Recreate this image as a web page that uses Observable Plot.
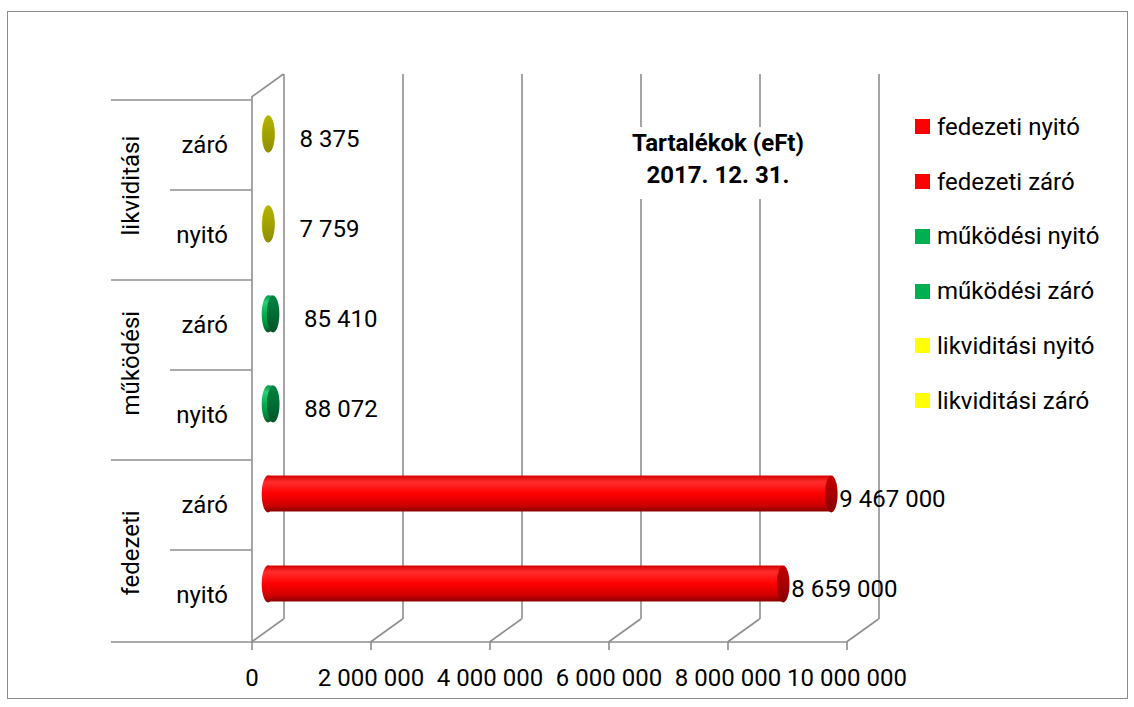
<!DOCTYPE html>
<html>
<head>
<meta charset="utf-8">
<script src="https://cdn.jsdelivr.net/npm/d3@7"></script>
<script src="https://cdn.jsdelivr.net/npm/@observablehq/plot@0.6"></script>
<style>
  body { margin: 0; background: #fff; }
  #wrap { position: relative; width: 1134px; height: 707px; font-family: Roboto, sans-serif; color: #000; overflow: hidden; }
  #chart { position: absolute; left: 0; top: 0; }
  #chart svg { display: block; }
  #border { position: absolute; left: 7px; top: 11px; width: 1119px; height: 686px; border: 1px solid #8a8a8a; pointer-events: none; }
  #title { position: absolute; left: 626px; top: 127px; width: 184px; padding-bottom: 8px; background: #fff;
           text-align: center; font-weight: bold; font-size: 24px; line-height: 32px; }
  .li { position: absolute; left: 915px; height: 30px; display: flex; align-items: center; font-size: 24px; white-space: nowrap; }
  .sw { width: 15px; height: 15px; margin-right: 7px; flex: none; }
</style>
</head>
<body>
<div id="wrap">
  <div id="chart"></div>
  <div id="border"></div>
  <div id="title">Tartalékok (eFt)<br>2017. 12. 31.</div>
  <div id="legend"></div>
</div>
<script>
// ---- data ----
const groups = ["fedezeti", "fedezeti", "működési", "működési", "likviditási", "likviditási"];
const subs   = ["nyitó", "záró", "nyitó", "záró", "nyitó", "záró"];
const values = [8659000, 9467000, 88072, 85410, 7759, 8375];
const groupNames = ["fedezeti", "működési", "likviditási"];
const groupColors = ["#ff0000", "#00b050", "#ffff00"];
const xTicks = [0, 2000000, 4000000, 6000000, 8000000, 10000000];
const legendLabels = ["fedezeti nyitó", "fedezeti záró", "működési nyitó", "működési záró", "likviditási nyitó", "likviditási záró"];

// cylinder shading (body: vertical gradient, cap: end face)
const bodyStops = [
  [[0, "#d40000"], [0.18, "#ff2d2d"], [0.5, "#ff0000"], [0.82, "#d00000"], [1, "#8a0000"]],
  [[0, "#00964a"], [0.18, "#2ccf78"], [0.5, "#00b050"], [0.82, "#008a3e"], [1, "#005a28"]],
  [[0, "#c8c800"], [0.18, "#ffff45"], [0.5, "#eeee00"], [0.82, "#bcbc00"], [1, "#7e7e00"]]
];
const capStops = [
  [[0, "#c40000"], [1, "#880000"]],
  [[0, "#008442"], [1, "#005427"]],
  [[0, "#b4b400"], [1, "#8e8e00"]]
];

const data = groups.map((g, i) => ({key: g + " " + subs[i], group: g, sub: subs[i], value: values[i]}));
const yDomain = data.map(d => d.key).reverse();

// ---- layout / style constants ----
const W = 1134, H = 707, ML = 251.5, MR = 287.5, MT = 97, MB = 65;
const DX = 32, DY = -23;            // depth of the 3-D box
const GRID = "#8e8e8e", GW = 1.6;
const bw = (H - MT - MB) / yDomain.length;
const barH = 36.8, inset = (bw - barH) / 2;
const RX = 6.3, RY = barH / 2;
const LONG = 140.5, SHORT = 81.5;

const fmt = d3.formatLocale({decimal: ",", thousands: " ", grouping: [3], currency: ["", ""]}).format(",d");

// gradients
const defs = d3.select("body").append("svg").attr("width", 0).attr("height", 0)
  .style("position", "absolute").append("defs");
function addGrad(id, stops) {
  const g = defs.append("linearGradient").attr("id", id).attr("x1", 0).attr("y1", 0).attr("x2", 0).attr("y2", 1);
  for (const [o, c] of stops) g.append("stop").attr("offset", o).attr("stop-color", c);
}
groupNames.forEach((g, i) => { addGrad("body-" + i, bodyStops[i]); addGrad("cap-" + i, capStops[i]); });

// ellipse symbol for cylinder ends
const ellipse = {
  draw(ctx) {
    const k = 0.5523;
    ctx.moveTo(RX, 0);
    ctx.bezierCurveTo(RX, RY * k, RX * k, RY, 0, RY);
    ctx.bezierCurveTo(-RX * k, RY, -RX, RY * k, -RX, 0);
    ctx.bezierCurveTo(-RX, -RY * k, -RX * k, -RY, 0, -RY);
    ctx.bezierCurveTo(RX * k, -RY, RX, -RY * k, RX, 0);
    ctx.closePath();
  }
};

// floor diagonals and top edge of the side wall
function depthEdges(index, scales, values, dims) {
  const x = scales.x;
  const g = d3.create("svg:g").attr("stroke", GRID).attr("stroke-width", GW).attr("fill", "none");
  const yb = dims.height - dims.marginBottom;
  for (const t of xTicks) {
    g.append("line").attr("x1", x(t)).attr("y1", yb).attr("x2", x(t) + DX).attr("y2", yb + DY);
  }
  g.append("line").attr("x1", x(0)).attr("y1", dims.marginTop).attr("x2", x(0) + DX).attr("y2", dims.marginTop + DY);
  return g.node();
}

// category separators of the two-level axis
function categoryLines(index, scales, values, dims) {
  const {x, y} = scales;
  const g = d3.create("svg:g").attr("stroke", GRID).attr("stroke-width", GW).attr("fill", "none");
  const x0 = x(0);
  for (const d of data) {
    const yt = y(d.key);
    const left = d.sub === "záró" ? x0 - LONG : x0 - SHORT;
    g.append("line").attr("x1", left).attr("x2", x0).attr("y1", yt).attr("y2", yt);
  }
  const yb = dims.height - dims.marginBottom;
  g.append("line").attr("x1", x0 - LONG).attr("x2", x(xTicks[xTicks.length - 1])).attr("y1", yb).attr("y2", yb);
  return g.node();
}

const cylinderMarks = groupNames.flatMap((g, i) => {
  const rows = data.filter(d => d.group === g);
  return [
    Plot.dot(rows, {x: () => 0, y: "key", symbol: ellipse, fill: `url(#body-${i})`, dx: DX / 2, dy: DY / 2}),
    Plot.barX(rows, {x: "value", y: "key", insetTop: inset, insetBottom: inset, fill: `url(#body-${i})`, dx: DX / 2, dy: DY / 2}),
    Plot.dot(rows, {x: "value", y: "key", symbol: ellipse, fill: `url(#cap-${i})`, dx: DX / 2, dy: DY / 2})
  ];
});

const chart = Plot.plot({
  width: W, height: H,
  marginLeft: ML, marginRight: MR, marginTop: MT, marginBottom: MB,
  style: {fontFamily: "Roboto, sans-serif", fontSize: "24px", color: "#000", background: "transparent", overflow: "visible"},
  x: {domain: [0, 10000000]},
  y: {domain: yDomain, padding: 0},
  marks: [
    Plot.ruleX(xTicks, {dx: DX, dy: DY, stroke: GRID, strokeWidth: GW}),
    Plot.ruleX([0], {stroke: GRID, strokeWidth: GW}),
    depthEdges,
    categoryLines,
    Plot.axisX({ticks: xTicks, tickSize: 8, tickPadding: 18, tickFormat: fmt, stroke: GRID, strokeWidth: GW, fontSize: 24, label: null}),
    Plot.axisY({tickSize: 0, tickPadding: 24, tickFormat: k => k.split(" ")[1], fontSize: 24, label: null}),
    // group label sits on the boundary between its two bands (top edge of the "nyitó" band)
    Plot.text(data.filter(d => d.sub === "nyitó"), {y: "key", text: "group", frameAnchor: "left", dx: -120.5, dy: 0, rotate: -90, fontSize: 24}),
    ...cylinderMarks,
    Plot.text(data.filter(d => d.value >= 1000000), {x: "value", y: "key", text: d => fmt(d.value), textAnchor: "start", dx: 24, dy: -6, fontSize: 24}),
    Plot.text(data.filter(d => d.value < 1000000), {x: "value", y: "key", text: d => fmt(d.value), textAnchor: "start", dx: 47, dy: -6, fontSize: 24})
  ]
});
document.getElementById("chart").appendChild(chart);

// legend
const legend = d3.select("#legend");
legendLabels.forEach((lab, i) => {
  const item = legend.append("div").attr("class", "li").style("top", (126.7 + 54.8 * i - 15) + "px");
  item.append("div").attr("class", "sw").style("background", groupColors[Math.floor(i / 2)]);
  item.append("span").text(lab);
});
</script>
</body>
</html>
